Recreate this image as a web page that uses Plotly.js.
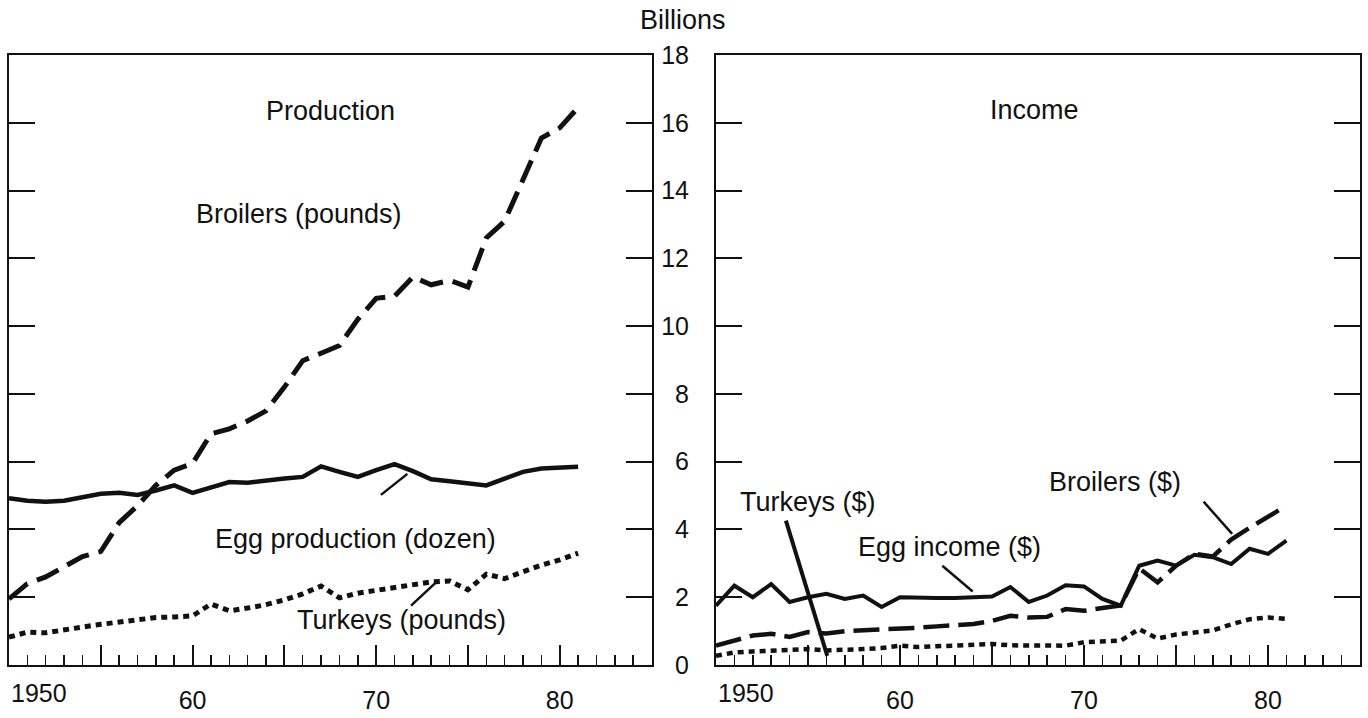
<!DOCTYPE html>
<html>
<head>
<meta charset="utf-8">
<script src="https://cdn.plot.ly/plotly-3.0.1.min.js"></script>
<style>html,body{margin:0;padding:0;background:#fff;}#chart{width:1368px;height:718px;}</style>
</head>
<body>
<div id="chart"></div>
<script>
// ---- data (billions) ----
const years = [1950,1951,1952,1953,1954,1955,1956,1957,1958,1959,1960,1961,1962,1963,1964,1965,
               1966,1967,1968,1969,1970,1971,1972,1973,1974,1975,1976,1977,1978,1979,1980,1981];
// Production panel
const broilersPounds = [1.95,2.4,2.6,2.9,3.2,3.35,4.2,4.7,5.3,5.75,5.95,6.82,6.97,7.2,7.5,8.2,
                        8.98,9.2,9.43,10.2,10.82,10.88,11.45,11.22,11.35,11.15,12.6,13.1,14.3,15.55,15.85,16.45];
const eggDozen = [4.92,4.85,4.82,4.85,4.95,5.05,5.08,5.02,5.15,5.3,5.08,5.25,5.4,5.38,5.45,5.5,
                  5.55,5.86,5.7,5.55,5.75,5.93,5.72,5.48,5.42,5.35,5.3,5.5,5.7,5.8,5.82,5.85];
const turkeysPounds = [0.82,0.97,0.95,1.05,1.12,1.2,1.26,1.35,1.4,1.42,1.45,1.8,1.6,1.68,1.78,1.92,
                       2.1,2.33,1.98,2.12,2.2,2.28,2.38,2.45,2.48,2.22,2.68,2.55,2.75,2.95,3.1,3.3];
// Income panel
const eggIncome = [1.75,2.34,2.0,2.39,1.86,2.0,2.1,1.95,2.05,1.71,2.0,1.98,1.98,1.98,2.0,2.02,
                   2.3,1.86,2.05,2.35,2.32,1.95,1.75,2.93,3.08,2.93,3.25,3.18,2.98,3.43,3.28,3.67];
const broilersIncome = [0.57,0.72,0.87,0.92,0.83,0.97,0.93,1.0,1.02,1.05,1.08,1.1,1.14,1.18,1.21,1.3,
                        1.45,1.4,1.42,1.65,1.6,1.68,1.76,2.85,2.44,2.93,3.28,3.2,3.7,4.05,4.36,4.7];
const turkeysIncome = [0.27,0.37,0.4,0.42,0.45,0.47,0.43,0.44,0.47,0.5,0.57,0.53,0.55,0.57,0.6,0.62,
                       0.58,0.57,0.57,0.57,0.67,0.68,0.72,1.06,0.78,0.9,0.95,1.02,1.2,1.35,1.4,1.36];

// ticks
const xTickVals = [1955,1960,1965,1970,1975,1980];
const xTickText = ['','60','','70','','80'];
const yTickVals = [0,2,4,6,8,10,12,14,16,18];
const yTickText = ['0','2','4','6','8','10','12','14','16','18'];
const yInnerTicks = [2,4,6,8,10,12,14,16];

const INK = '#111111';
const FONT = 'Liberation Sans, Arial, Helvetica, sans-serif';

const traces = [
  {x: years, y: broilersPounds, xaxis:'x', yaxis:'y', mode:'lines', name:'Broilers (pounds)',
   line:{color:INK, width:5, dash:'24px,10px'}},
  {x: years, y: eggDozen, xaxis:'x', yaxis:'y', mode:'lines', name:'Egg production (dozen)',
   line:{color:INK, width:4.5}},
  {x: years, y: turkeysPounds, xaxis:'x', yaxis:'y', mode:'lines', name:'Turkeys (pounds)',
   line:{color:INK, width:5, dash:'6px,5px'}},
  {x: years, y: eggIncome, xaxis:'x2', yaxis:'y2', mode:'lines', name:'Egg income ($)',
   line:{color:INK, width:4}},
  {x: years, y: broilersIncome, xaxis:'x2', yaxis:'y2', mode:'lines', name:'Broilers ($)',
   line:{color:INK, width:4.5, dash:'26px,9px'}},
  {x: years, y: turkeysIncome, xaxis:'x2', yaxis:'y2', mode:'lines', name:'Turkeys ($)',
   line:{color:INK, width:4.5, dash:'6px,5px'}}
];

function xAxis(domain){
  return {
    domain: domain, range:[1950,1985], tickmode:'array', tickvals:xTickVals, ticktext:xTickText,
    ticks:'inside', ticklen:20, tickwidth:2, tickcolor:INK,
    minor:{tick0:1950, dtick:1, ticks:'inside', ticklen:10, tickwidth:1.5, tickcolor:INK, showgrid:false},
    showline:true, linewidth:2, linecolor:INK, mirror:true,
    showgrid:false, zeroline:false, ticklabelstandoff:12,
    tickfont:{family:FONT, size:25, color:INK}
  };
}
function yAxis(anchor, labels){
  return {
    anchor: anchor, range:[0,18], tickmode:'array',
    tickvals: labels ? yTickVals : yInnerTicks,
    ticktext: labels ? yTickText : undefined,
    ticks:'inside', ticklen:26, tickwidth:2, tickcolor:INK,
    showline:true, linewidth:2, linecolor:INK, mirror:'ticks',
    showgrid:false, zeroline:false, showticklabels: labels, side:'left',
    ticklabelstandoff:20,
    tickfont:{family:FONT, size:25, color:INK}
  };
}

const txt = (text, xref, yref, x, y, extra) => Object.assign({
  text:text, xref:xref, yref:yref, x:x, y:y, showarrow:false,
  font:{family:FONT, size:27, color:INK}, xanchor:'center', yanchor:'middle'
}, extra||{});

const annotations = [
  txt('Billions','paper','paper',0.4989,1.057),
  txt('Production','x','y',1967.5,16.35),
  txt('Broilers (pounds)','x','y',1965.8,13.3),
  txt('Egg production (dozen)','x','y',1968.9,3.72),
  txt('Turkeys (pounds)','x','y',1971.4,1.33),
  txt('Income','x2','y2',1967.3,16.37),
  txt('Turkeys ($)','x2','y2',1955.0,4.82),
  txt('Egg income ($)','x2','y2',1962.7,3.49),
  txt('Broilers ($)','x2','y2',1971.7,5.41),
  txt('1950','x','paper',1950,-0.046,{xanchor:'left', font:{family:FONT,size:25,color:INK}}),
  txt('1950','x2','paper',1950,-0.046,{xanchor:'left', font:{family:FONT,size:25,color:INK}})
];

const ptr = (xref, yref, x0, y0, x1, y1, w) => ({
  type:'line', xref:xref, yref:yref, x0:x0, y0:y0, x1:x1, y1:y1,
  line:{color:INK, width:w||2}
});
const shapes = [
  ptr('x','y',1970.26,5.02,1971.7,5.64,2.5),
  ptr('x','y',1971.9,1.75,1973.26,2.44,2.5),
  ptr('x2','y2',1953.8,4.26,1956.05,0.27,4),
  ptr('x2','y2',1962.3,2.93,1963.95,2.17,2.5),
  ptr('x2','y2',1976.5,4.82,1978.05,3.87,2.5)
];

const layout = {
  width:1368, height:718,
  margin:{l:9, r:8, t:55, b:53},
  paper_bgcolor:'#ffffff', plot_bgcolor:'#ffffff',
  showlegend:false,
  font:{family:FONT, size:25, color:INK},
  xaxis: xAxis([0,0.4756]),
  xaxis2: xAxis([0.5233,1]),
  yaxis: yAxis('x', false),
  yaxis2: yAxis('x2', true),
  annotations: annotations,
  shapes: shapes
};

Plotly.newPlot('chart', traces, layout, {staticPlot:true, displayModeBar:false});
</script>
</body>
</html>
